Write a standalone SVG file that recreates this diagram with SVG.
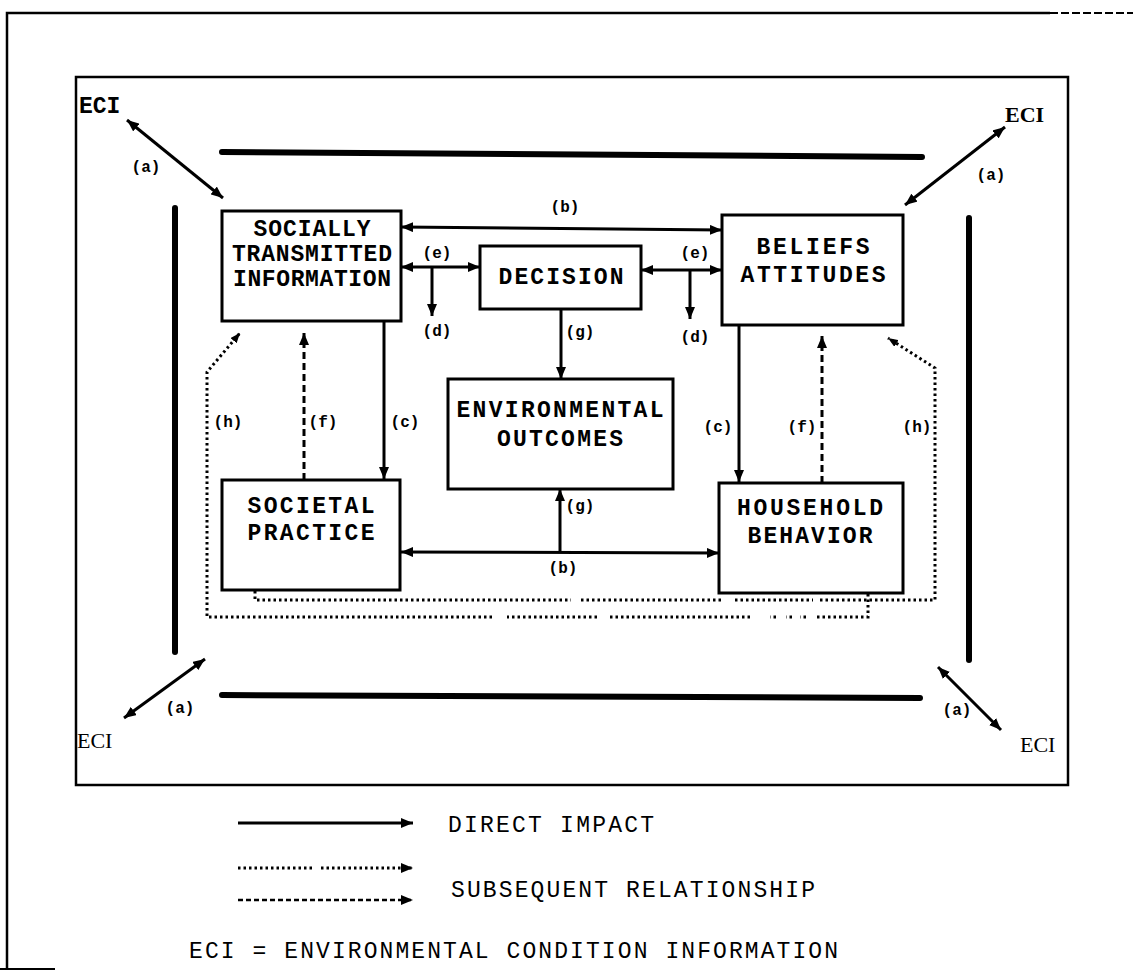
<svg xmlns="http://www.w3.org/2000/svg" width="1133" height="975" viewBox="0 0 1133 975">
<style>
.box{fill:#fff;stroke:#000;stroke-width:3}
.bar{stroke:#000;stroke-width:6;stroke-linecap:round;fill:none}
.ln{stroke:#000;stroke-width:3;fill:none}
.dash{stroke:#000;stroke-width:3;stroke-dasharray:7 4;fill:none}
.dot{stroke:#000;stroke-width:3;stroke-dasharray:2.5 3;fill:none}
.frm{stroke:#000;stroke-width:2.5;fill:none}
.nt{font-family:"Liberation Mono",monospace;font-weight:bold;font-size:23px;text-anchor:middle}
.lb{font-family:"Liberation Mono",monospace;font-weight:bold;font-size:16px;text-anchor:middle}
.eci{font-family:"Liberation Serif",serif;font-size:22px}
.lg{font-family:"Liberation Mono",monospace;font-size:23px}
</style>
<defs>
<marker id="ah" viewBox="0 0 12 10" refX="12" refY="5" markerWidth="12" markerHeight="10" markerUnits="userSpaceOnUse" orient="auto-start-reverse"><path d="M0,0 L12,5 L0,10 z" fill="#000"/></marker>
<marker id="ahs" viewBox="0 0 10 8" refX="10" refY="4" markerWidth="10" markerHeight="8" markerUnits="userSpaceOnUse" orient="auto-start-reverse"><path d="M0,0 L10,4 L0,8 z" fill="#000"/></marker>
</defs>
<rect width="1133" height="975" fill="#fff"/>
<g id="frames">
<path class="frm" d="M7,970 V13 H1050"/>
<path d="M1050,13 H1133" stroke="#000" stroke-width="2" stroke-dasharray="8 3"/>
<path d="M0,969 H55" stroke="#000" stroke-width="2"/>
<rect class="frm" x="76" y="77" width="992" height="708"/>
<path class="bar" d="M222,152 L922,157"/>
<path class="bar" d="M222,695 L920,698"/>
<path class="bar" d="M175,208 V652"/>
<path class="bar" d="M969,218 V660"/>
</g>
<g id="eci-labels">
<text x="79" y="113" style="font-family:'Liberation Mono',monospace;font-weight:bold;font-size:23px">ECI</text>
<text class="eci" x="1005" y="122" style="font-weight:bold">ECI</text>
<text class="eci" x="77" y="748">ECI</text>
<text class="eci" x="1020" y="752">ECI</text>
</g>
<g id="connectors">
<line class="ln" x1="127" y1="120" x2="223" y2="198" marker-start="url(#ah)" marker-end="url(#ah)"/>
<line class="ln" x1="1005" y1="127" x2="905" y2="205" marker-start="url(#ah)" marker-end="url(#ah)"/>
<line class="ln" x1="124" y1="718" x2="205" y2="659" marker-start="url(#ah)" marker-end="url(#ah)"/>
<line class="ln" x1="938" y1="667" x2="1001" y2="730" marker-start="url(#ah)" marker-end="url(#ah)"/>
<line class="ln" x1="401" y1="227" x2="722" y2="230" marker-start="url(#ah)" marker-end="url(#ah)"/>
<line class="ln" x1="401" y1="267" x2="480" y2="267" marker-start="url(#ah)" marker-end="url(#ah)"/>
<line class="ln" x1="432" y1="267" x2="432" y2="316" marker-end="url(#ah)"/>
<line class="ln" x1="641" y1="270" x2="722" y2="270" marker-start="url(#ah)" marker-end="url(#ah)"/>
<line class="ln" x1="690" y1="270" x2="690" y2="319" marker-end="url(#ah)"/>
<line class="ln" x1="561" y1="309" x2="561" y2="379" marker-end="url(#ah)"/>
<line class="ln" x1="560" y1="553" x2="560" y2="489" marker-end="url(#ah)"/>
<line class="ln" x1="401" y1="552" x2="719" y2="553" marker-start="url(#ah)" marker-end="url(#ah)"/>
<line class="ln" x1="384" y1="322" x2="384" y2="479" marker-end="url(#ah)"/>
<line class="ln" x1="739" y1="325" x2="739" y2="482" marker-end="url(#ah)"/>
<line class="dash" x1="304" y1="480" x2="304" y2="333" marker-end="url(#ah)"/>
<line class="dash" x1="822" y1="483" x2="822" y2="336" marker-end="url(#ah)"/>
<path class="dot" d="M868,594 V617 H815 M806,617 H800 M792,617 H786 M776,617 H770 M750,617 H607 M597,617 H507"/>
<path class="dot" d="M492,617 H207 V372 L240,333" marker-end="url(#ahs)"/>
<path class="dot" d="M255,591 V600 H571 M581,600 H724 M735,600 H813"/>
<path class="dot" d="M820,600 H935 V368 L888,338" marker-end="url(#ahs)"/>
</g>
<g id="conn-labels">
<text class="lb" x="146" y="172">(a)</text>
<text class="lb" x="991" y="180">(a)</text>
<text class="lb" x="180" y="713">(a)</text>
<text class="lb" x="957" y="715">(a)</text>
<text class="lb" x="565" y="212">(b)</text>
<text class="lb" x="437" y="258">(e)</text>
<text class="lb" x="695" y="258">(e)</text>
<text class="lb" x="437" y="336">(d)</text>
<text class="lb" x="695" y="342">(d)</text>
<text class="lb" x="580" y="337">(g)</text>
<text class="lb" x="405" y="427">(c)</text>
<text class="lb" x="323" y="427">(f)</text>
<text class="lb" x="228" y="427">(h)</text>
<text class="lb" x="718" y="432">(c)</text>
<text class="lb" x="802" y="432">(f)</text>
<text class="lb" x="917" y="432">(h)</text>
<text class="lb" x="580" y="511">(g)</text>
<text class="lb" x="563" y="573">(b)</text>
</g>
<g id="sti">
<rect class="box" x="222" y="211" width="179" height="110"/>
<text class="nt" x="312" y="236" textLength="117">SOCIALLY</text>
<text class="nt" x="312" y="261" textLength="160">TRANSMITTED</text>
<text class="nt" x="312" y="286" textLength="158">INFORMATION</text>
</g>
<g id="decision">
<rect class="box" x="480" y="246" width="161" height="63"/>
<text class="nt" x="561" y="284" textLength="125">DECISION</text>
</g>
<g id="beliefs">
<rect class="box" x="722" y="215" width="181" height="110"/>
<text class="nt" x="813" y="254" textLength="113">BELIEFS</text>
<text class="nt" x="813" y="282" textLength="145">ATTITUDES</text>
</g>
<g id="environmental">
<rect class="box" x="448" y="379" width="225" height="110"/>
<text class="nt" x="560" y="417" textLength="207">ENVIRONMENTAL</text>
<text class="nt" x="560" y="446" textLength="126">OUTCOMES</text>
</g>
<g id="societal">
<rect class="box" x="222" y="480" width="178" height="110"/>
<text class="nt" x="311" y="513" textLength="127">SOCIETAL</text>
<text class="nt" x="311" y="540" textLength="127">PRACTICE</text>
</g>
<g id="household">
<rect class="box" x="719" y="483" width="184" height="110"/>
<text class="nt" x="810" y="515" textLength="146">HOUSEHOLD</text>
<text class="nt" x="810" y="543" textLength="125">BEHAVIOR</text>
</g>
<g id="legend">
<line class="ln" x1="238" y1="823" x2="413" y2="823" marker-end="url(#ah)"/>
<line class="dot" x1="238" y1="868" x2="315" y2="868"/>
<line class="dot" x1="321" y1="868" x2="413" y2="868" marker-end="url(#ah)"/>
<line x1="238" y1="900" x2="413" y2="900" stroke="#000" stroke-width="2.5" stroke-dasharray="5 3" marker-end="url(#ah)"/>
<text class="lg" x="448" y="832" textLength="206">DIRECT IMPACT</text>
<text class="lg" x="451" y="897" textLength="364">SUBSEQUENT RELATIONSHIP</text>
<text class="lg" x="189" y="958" textLength="649">ECI = ENVIRONMENTAL CONDITION INFORMATION</text>
</g>
</svg>
